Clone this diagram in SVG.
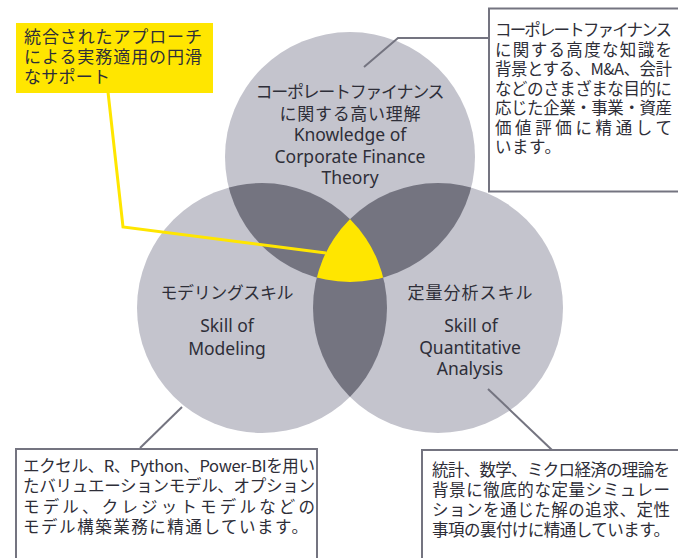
<svg xmlns="http://www.w3.org/2000/svg" width="678" height="558" viewBox="0 0 678 558">
<style>
.c{fill:#c4c4cd}
.d{fill:#747480}
.y{fill:#ffe600}
.t{font-family:"Noto Sans","Noto Sans CJK JP",sans-serif;font-size:17.5px;fill:#2e2e38;text-anchor:middle}
.j{font-family:"Noto Sans CJK JP","Noto Sans",sans-serif;font-size:17px}
.b{font-family:"Noto Sans CJK JP","Noto Sans",sans-serif;font-size:16.5px;fill:#2e2e38}
.box{fill:#ffffff;stroke:#747480;stroke-width:2}
.ln{fill:none;stroke:#747480;stroke-width:2}
.yl{fill:none;stroke:#ffe600;stroke-width:3}
</style>
<defs>
<clipPath id="cT"><circle cx="350" cy="157" r="125"/></clipPath>
<clipPath id="cL"><circle cx="262" cy="308" r="125"/></clipPath>
<clipPath id="cR"><circle cx="438" cy="308" r="125"/></clipPath>
</defs>
<rect width="678" height="558" fill="#ffffff"/>
<g id="venn">
<circle class="c" cx="350" cy="157" r="125"/>
<circle class="c" cx="262" cy="308" r="125"/>
<circle class="c" cx="438" cy="308" r="125"/>
<circle class="d" cx="262" cy="308" r="125" clip-path="url(#cT)"/>
<circle class="d" cx="438" cy="308" r="125" clip-path="url(#cT)"/>
<circle class="d" cx="438" cy="308" r="125" clip-path="url(#cL)"/>
<g clip-path="url(#cL)"><circle class="y" cx="438" cy="308" r="125" clip-path="url(#cT)"/></g>
</g>
<g id="connectors">
<polyline class="yl" points="108,92 123,227 326,253"/>
<polyline class="ln" points="489,38 398,38 364,67"/>
<line class="ln" x1="140" y1="448" x2="182" y2="407"/>
<line class="ln" x1="488" y1="389" x2="552" y2="450"/>
</g>
<g id="node-corporate-finance">
<text class="t"><tspan class="j" x="350" y="98" textLength="189" lengthAdjust="spacing">コーポレートファイナンス</tspan><tspan class="j" x="350" y="119.5" textLength="141" lengthAdjust="spacing">に関する高い理解</tspan><tspan x="350" y="141">Knowledge of</tspan><tspan x="350" y="162.5">Corporate Finance</tspan><tspan x="350" y="184">Theory</tspan></text>
</g>
<g id="node-modeling">
<text class="t"><tspan class="j" x="227" y="299" textLength="133" lengthAdjust="spacing">モデリングスキル</tspan><tspan x="227" y="332">Skill of</tspan><tspan x="227" y="355">Modeling</tspan></text>
</g>
<g id="node-quantitative">
<text class="t"><tspan class="j" x="470" y="299" textLength="125" lengthAdjust="spacing">定量分析スキル</tspan><tspan x="471" y="332">Skill of</tspan><tspan x="470" y="354">Quantitative</tspan><tspan x="470" y="375">Analysis</tspan></text>
</g>
<g id="node-integrated">
<rect x="16" y="23" width="197" height="70" fill="#ffe600"/>
<text class="b" style="font-size:17px"><tspan x="24" y="43" textLength="178" lengthAdjust="spacing">統合されたアプローチ</tspan><tspan x="24" y="63" textLength="178" lengthAdjust="spacing">による実務適用の円滑</tspan><tspan x="24" y="83" textLength="86" lengthAdjust="spacing">なサポート</tspan></text>
</g>
<g id="node-cf-detail">
<rect class="box" x="489" y="8.5" width="200" height="183"/>
<text class="b"><tspan x="495" y="36" textLength="177" lengthAdjust="spacing">コーポレートファイナンス</tspan><tspan x="495" y="55.5" textLength="177" lengthAdjust="spacing">に関する高度な知識を</tspan><tspan x="495" y="75" textLength="177" lengthAdjust="spacing">背景とする、M&amp;A、会計</tspan><tspan x="495" y="94.5" textLength="177" lengthAdjust="spacing">などのさまざまな目的に</tspan><tspan x="495" y="114" textLength="177" lengthAdjust="spacing">応じた企業・事業・資産</tspan><tspan x="495" y="133.5" textLength="177" lengthAdjust="spacing">価値評価に精通して</tspan><tspan x="495" y="153" textLength="66" lengthAdjust="spacing">います。</tspan></text>
</g>
<g id="node-modeling-detail">
<rect class="box" x="16" y="449" width="301" height="120"/>
<text class="b"><tspan x="23" y="472" textLength="292" lengthAdjust="spacing">エクセル、R、Python、Power-BIを用い</tspan><tspan x="23" y="492" textLength="292" lengthAdjust="spacing">たバリュエーションモデル、オプション</tspan><tspan x="23" y="513" textLength="292" lengthAdjust="spacing">モデル、クレジットモデルなどの</tspan><tspan x="23" y="533" textLength="285" lengthAdjust="spacing">モデル構築業務に精通しています。</tspan></text>
</g>
<g id="node-quant-detail">
<rect class="box" x="422" y="450" width="270" height="120"/>
<text class="b"><tspan x="432" y="476" textLength="238" lengthAdjust="spacing">統計、数学、ミクロ経済の理論を</tspan><tspan x="432" y="496" textLength="238" lengthAdjust="spacing">背景に徹底的な定量シミュレー</tspan><tspan x="432" y="516" textLength="238" lengthAdjust="spacing">ションを通じた解の追求、定性</tspan><tspan x="432" y="536" textLength="238" lengthAdjust="spacing">事項の裏付けに精通しています。</tspan></text>
</g>
</svg>
